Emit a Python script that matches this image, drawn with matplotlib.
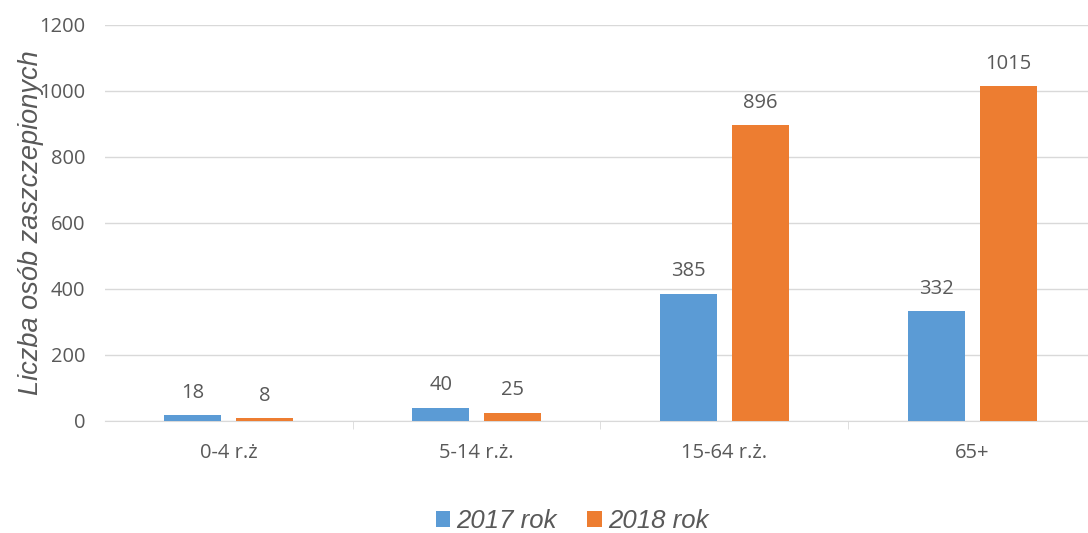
import matplotlib.pyplot as plt
import numpy as np

categories = ['0-4 r.ż', '5-14 r.ż.', '15-64 r.ż.', '65+']
rok_2017 = [18, 40, 385, 332]
rok_2018 = [8, 25, 896, 1015]
series_names = ['2017 rok', '2018 rok']
yticks = [0, 200, 400, 600, 800, 1000, 1200]

blue = '#5B9BD5'
orange = '#ED7D31'
grey_text = '#595959'

fig = plt.figure(figsize=(10.88, 5.33), dpi=100)
ax = fig.add_axes([105/1088, 112/533, 983/1088, 396/533])

x = np.arange(len(categories))
w = 0.23
off = 0.145
b1 = ax.bar(x - off, rok_2017, w, color=blue, label=series_names[0], zorder=3)
b2 = ax.bar(x + off, rok_2018, w, color=orange, label=series_names[1], zorder=3)

# etykiety wartosci nad slupkami
for bars, vals in ((b1, rok_2017), (b2, rok_2018)):
    for b, v in zip(bars, vals):
        ax.annotate(str(v), (b.get_x() + b.get_width()/2, v), xytext=(0, 9),
                    textcoords='offset points', ha='center', va='bottom',
                    fontsize=14.5, color=grey_text, family='Open Sans')

ax.set_ylim(0, 1200)
ax.set_xlim(-0.5, 3.5 - 8/247.8)
ax.set_yticks(yticks)
ax.yaxis.grid(True, color='#D9D9D9', linewidth=1, zorder=0)
ax.set_xticks(x)
ax.set_xticklabels(categories, fontsize=14.5, family='Open Sans', color=grey_text)
ax.set_yticklabels([str(t) for t in yticks], fontsize=14.5, family='Open Sans', color=grey_text)
ax.set_xticks([0.5, 1.5, 2.5], minor=True)
ax.tick_params(axis='x', which='major', length=0, pad=16)
ax.tick_params(axis='x', which='minor', length=6, color='#D9D9D9')
ax.tick_params(axis='y', length=0, pad=14)

for s in ['top', 'right', 'left']:
    ax.spines[s].set_visible(False)
ax.spines['bottom'].set_color('#D9D9D9')

ax.set_ylabel('Liczba osób zaszczepionych', fontsize=19.5, style='italic',
              color=grey_text, family='Liberation Sans')
ax.yaxis.set_label_coords(-0.062, 0.5)

leg = fig.legend(handles=[b1, b2], loc='center', bbox_to_anchor=(572/1088, 1 - 521/533),
                 ncol=2, frameon=False, handlelength=0.55, handleheight=0.55,
                 handletextpad=0.25, columnspacing=1.2,
                 prop={'family': 'Liberation Sans', 'style': 'italic', 'size': 18.5})
for t in leg.get_texts():
    t.set_color(grey_text)

fig.savefig('out.png', dpi=100)
